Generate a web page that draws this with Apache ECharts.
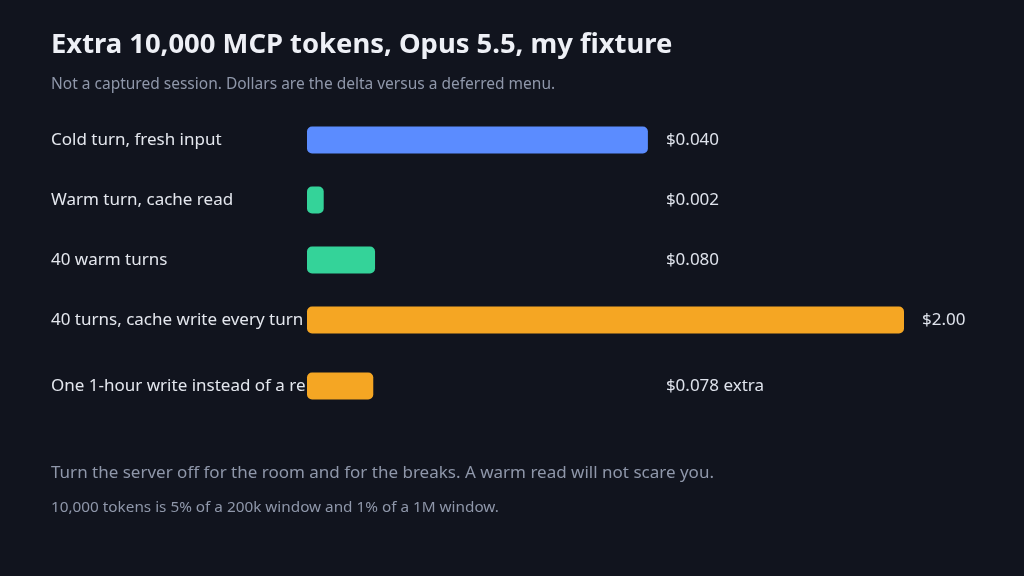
<!DOCTYPE html>
<html>
<head>
<meta charset="utf-8">
<script src="https://cdn.jsdelivr.net/npm/echarts@6/dist/echarts.min.js"></script>
<style>
html,body{margin:0;padding:0;background:#11141e;}
#c{width:1024px;height:576px;}
</style>
</head>
<body>
<div id="c"></div>
<script>
// ---- data ----
const categories = [
  'Cold turn, fresh input',
  'Warm turn, cache read',
  '40 warm turns',
  '40 turns, cache write every turn',
  'One 1-hour write instead of a re-write'
];
// bar length relative to the widest bar
const barLength = [0.571, 0.028, 0.114, 1.0, 0.111];
const valueLabels = ['$0.040', '$0.002', '$0.080', '$2.00', '$0.078 extra'];
const titleText = 'Extra 10,000 MCP tokens, Opus 5.5, my fixture';
const subtitleText = 'Not a captured session. Dollars are the delta versus a deferred menu.';
const note1 = 'Turn the server off for the room and for the breaks. A warm read will not scare you.';
const note2 = '10,000 tokens is 5% of a 200k window and 1% of a 1M window.';

// ---- styles ----
const barColors = ['#5b8cff', '#34d399', '#34d399', '#f5a623', '#f5a623'];
const FONT = '"Noto Sans", "Open Sans", sans-serif';

const labelAnchor = barLength.map(v => Math.max(v, barLength[0]));

const groups = [[0, 1, 2, 3], [4]];
const gridDefs = [
  { left: 307, width: 597, top: 110, height: 240 },
  { left: 307, width: 597, top: 356, height: 60 }
];

const xAxes = [], yAxes = [], series = [];
groups.forEach((idx, g) => {
  xAxes.push({ type: 'value', gridIndex: g, min: 0, max: 1, show: false });
  yAxes.push({
    type: 'category', gridIndex: g, inverse: true,
    data: idx.map(i => categories[i]),
    axisLine: { show: false }, axisTick: { show: false }, splitLine: { show: false },
    axisLabel: {
      align: 'left', margin: 256, width: 256, overflow: 'truncate', ellipsis: '',
      color: '#e4e7ee', fontSize: 17, fontFamily: FONT
    }
  });
  series.push({
    type: 'bar', xAxisIndex: g, yAxisIndex: g, barWidth: 27, barGap: '-100%',
    data: idx.map(i => ({ value: barLength[i], itemStyle: { color: barColors[i], borderRadius: 5 } })),
    silent: true, animation: false
  });
  series.push({
    type: 'bar', xAxisIndex: g, yAxisIndex: g, barWidth: 27, barGap: '-100%',
    data: idx.map(i => ({ value: labelAnchor[i], name: valueLabels[i] })),
    itemStyle: { color: 'rgba(0,0,0,0)' },
    label: {
      show: true, position: 'right', distance: 18,
      formatter: p => p.name, color: '#dfe3ec', fontSize: 17, fontFamily: FONT
    },
    silent: true, animation: false
  });
});

const chart = echarts.init(document.getElementById('c'), null, { renderer: 'canvas' });
chart.setOption({
  backgroundColor: '#11141e',
  animation: false,
  title: [
    { text: titleText, left: 51, top: 32, padding: 0,
      textStyle: { color: '#eef0f6', fontSize: 27.4, fontWeight: 'bold', fontFamily: FONT } },
    { text: subtitleText, left: 51, top: 77, padding: 0,
      textStyle: { color: '#8f97aa', fontSize: 15.5, fontWeight: 'normal', fontFamily: FONT } },
    { text: note1, left: 51, top: 465, padding: 0,
      textStyle: { color: '#8f97aa', fontSize: 17, fontWeight: 'normal', fontFamily: FONT } },
    { text: note2, left: 51, top: 500, padding: 0,
      textStyle: { color: '#8f97aa', fontSize: 15.3, fontWeight: 'normal', fontFamily: FONT } }
  ],
  grid: gridDefs,
  xAxis: xAxes,
  yAxis: yAxes,
  series: series
});
</script>
</body>
</html>
